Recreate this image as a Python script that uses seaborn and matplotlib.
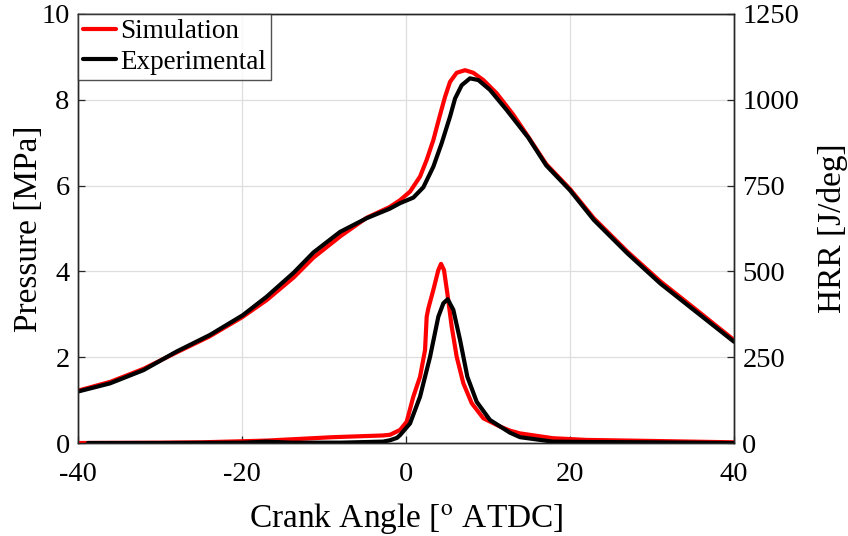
import numpy as np
import pandas as pd
import matplotlib
matplotlib.use("Agg")
import matplotlib.pyplot as plt
import seaborn as sns

# ---- data ----
p_sim_ca = [-40, -36, -32, -28, -24, -20, -17, -13.7, -11.3, -8, -4.8, -2, -0.73, 0.49, 1.71, 2.52, 3.33,
            4.15, 4.76, 5.37, 6.18, 7.2, 8.2, 9.43, 11.06, 13.09, 14.9, 17.1, 20.0, 22.9, 27.0, 31.0,
            35.1, 40]
p_sim = [1.22, 1.43, 1.73, 2.11, 2.48, 2.93, 3.33, 3.86, 4.32, 4.82, 5.25, 5.50, 5.66, 5.86, 6.21, 6.60, 7.06,
         7.65, 8.07, 8.42, 8.63, 8.69, 8.63, 8.46, 8.15, 7.65, 7.14, 6.50, 5.92, 5.24, 4.46, 3.77,
         3.15, 2.40]
p_exp_ca = [-40, -36.1, -32, -28, -23.9, -19.9, -17, -13.7, -11.3, -8.05, -4.8, -2, -0.73, 0.89, 2.11, 3.33,
            4.35, 5.37, 5.98, 6.79, 7.8, 8.82, 10.24, 12.28, 14.9, 17.1, 20.0, 22.9, 27.0, 31.0,
            35.1, 40]
p_exp = [1.20, 1.39, 1.70, 2.13, 2.52, 2.98, 3.41, 3.97, 4.44, 4.92, 5.24, 5.46, 5.59, 5.72, 5.96, 6.44,
         6.99, 7.61, 8.03, 8.34, 8.50, 8.46, 8.23, 7.76, 7.12, 6.47, 5.89, 5.20, 4.42, 3.72,
         3.10, 2.36]

hrr_sim_ca = [-40, -30, -25, -17, -8.9, -2.8, -1.95, -0.73, 0.08, 0.89, 1.71, 2.32, 2.52, 2.72, 3.33, 3.94,
              4.27, 4.63, 5.04, 5.57, 6.18, 6.99, 8.01, 9.43, 11.46, 12.68, 13.9, 17.9, 22, 30, 40]
hrr_sim = [0, 1, 2, 7, 17, 22, 24, 38, 62, 135, 193, 271, 368, 392, 446, 504,
           522, 504, 436, 339, 251, 174, 116, 72, 48, 36, 28, 14, 9, 6, 2]
hrr_exp_ca = [-38.8, -30, -20, -17, -14, -8, -2.8, -1.95, -1.1, -0.73, 0.49, 1.71, 2.93, 3.94, 4.55, 5.08,
              5.77, 6.59, 7.48, 8.62, 10.24, 12.68, 13.9, 17.9, 22, 30, 40]
hrr_exp = [0, 0, 1, 4, 1, 1, 4, 8, 15, 23, 57, 135, 251, 368, 407, 419,
           388, 300, 193, 120, 67, 30, 17, 4, 3, 2, 0]

x_ticks = [-40, -20, 0, 20, 40]
p_ticks = [0, 2, 4, 6, 8, 10]
hrr_ticks = [0, 250, 500, 750, 1000, 1250]

sns.set_theme(style="white")
plt.rcParams["font.family"] = ["Liberation Serif", "DejaVu Serif"]
plt.rcParams["axes.unicode_minus"] = False
plt.rcParams["mathtext.fontset"] = "stix"
plt.rcParams["text.color"] = "black"
plt.rcParams["axes.labelcolor"] = "black"

fig = plt.figure(figsize=(8.48, 5.36), dpi=100)
ax = fig.add_axes([0.092, 0.1735, 0.7736, 0.8004])
ax2 = ax.twinx()

red = "#ff0000"
black = "#000000"
lw = 3.0

sns.lineplot(x=p_sim_ca, y=p_sim, ax=ax, color=red, lw=lw, label="Simulation", legend=False)
sns.lineplot(x=p_exp_ca, y=p_exp, ax=ax, color=black, lw=lw, label="Experimental", legend=False)
sns.lineplot(x=hrr_sim_ca, y=hrr_sim, ax=ax2, color=red, lw=lw, legend=False)
sns.lineplot(x=hrr_exp_ca, y=hrr_exp, ax=ax2, color=black, lw=lw, legend=False)

ax.set_xlim(-40, 40)
ax.set_ylim(0, 10)
ax2.set_ylim(0, 1250)
ax.set_xticks(x_ticks)
ax.set_yticks(p_ticks)
ax2.set_yticks(hrr_ticks)
ax.set_xticklabels([str(v) for v in x_ticks])

ax.grid(True, color="#dedede", lw=0.9)
ax.set_axisbelow(True)

for a in (ax, ax2):
    for s in a.spines.values():
        s.set_color("#262626")
        s.set_linewidth(1.0)
ax.tick_params(axis="both", direction="in", length=5, width=0.9, color="#262626",
               labelsize=20.5, labelcolor="black", bottom=True, left=True, top=False, right=False)
ax2.tick_params(axis="y", direction="in", length=5, width=0.9, color="#262626",
                labelsize=20.5, labelcolor="black", right=True, left=False)
ax.tick_params(axis="x", pad=14)
ax.tick_params(axis="y", pad=6)
ax2.tick_params(axis="y", pad=6)

ax.set_xlabel(r"Crank Angle [$^{\rm o}$ ATDC]", fontsize=24, labelpad=10, color="black")
ax.set_ylabel("Pressure [MPa]", fontsize=24, labelpad=-2, color="black")
ax2.set_ylabel("HRR [J/deg]", fontsize=24, labelpad=13, color="black")

handles, labels = ax.get_legend_handles_labels()
leg = ax2.legend(handles, labels, loc="upper left", fontsize=19.5, frameon=True,
                 fancybox=False, edgecolor="#262626", borderaxespad=0.0,
                 handlelength=1.2, handletextpad=0.15, borderpad=0.2, labelspacing=0.2)
leg.get_frame().set_linewidth(1.0)
for t in leg.get_texts():
    t.set_color("black")

fig.savefig("out.png", dpi=100)
